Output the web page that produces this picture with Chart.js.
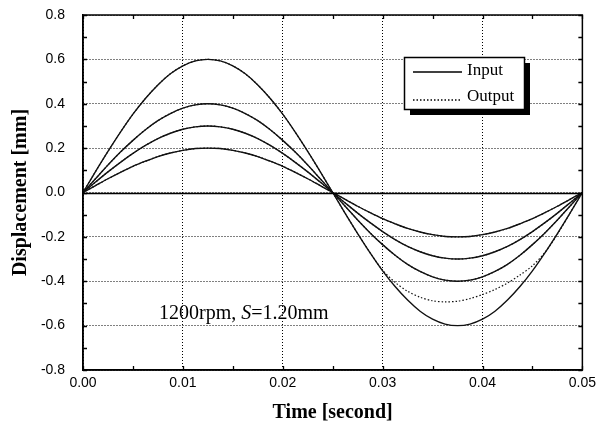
<!DOCTYPE html>
<html>
<head>
<meta charset="utf-8">
<script src="https://cdn.jsdelivr.net/npm/chart.js@4.4.0/dist/chart.umd.min.js"></script>
<style>
  html, body { margin: 0; padding: 0; background: #fff; }
  #wrap { width: 601px; height: 434px; position: relative; }
</style>
</head>
<body>
<div id="wrap"><canvas id="chart" width="601" height="434"></canvas></div>
<script>
// sample times [second]
const timeSec = [0, 0.00125, 0.0025, 0.00375, 0.005, 0.00625, 0.0075, 0.00875, 0.01, 0.01125,
                 0.0125, 0.01375, 0.015, 0.01625, 0.0175, 0.01875, 0.02, 0.02125, 0.0225, 0.02375,
                 0.025, 0.02625, 0.0275, 0.02875, 0.03, 0.03125, 0.0325, 0.03375, 0.035, 0.03625,
                 0.0375, 0.03875, 0.04, 0.04125, 0.0425, 0.04375, 0.045, 0.04625, 0.0475, 0.04875, 0.05];

// input displacement [mm]
const input06 = [0, 0.094, 0.185, 0.272, 0.353, 0.424, 0.485, 0.535, 0.571, 0.593,
                 0.600, 0.593, 0.571, 0.535, 0.485, 0.424, 0.353, 0.272, 0.185, 0.094,
                 0, -0.094, -0.185, -0.272, -0.353, -0.424, -0.485, -0.535, -0.571, -0.593,
                 -0.600, -0.593, -0.571, -0.535, -0.485, -0.424, -0.353, -0.272, -0.185, -0.094, 0];
const input04 = [0, 0.062, 0.124, 0.182, 0.235, 0.283, 0.324, 0.356, 0.380, 0.395,
                 0.400, 0.395, 0.380, 0.356, 0.324, 0.283, 0.235, 0.182, 0.124, 0.062,
                 0, -0.062, -0.124, -0.182, -0.235, -0.283, -0.324, -0.356, -0.380, -0.395,
                 -0.400, -0.395, -0.380, -0.356, -0.324, -0.283, -0.235, -0.182, -0.124, -0.062, 0];
const input03 = [0, 0.047, 0.093, 0.136, 0.176, 0.212, 0.243, 0.267, 0.285, 0.296,
                 0.300, 0.296, 0.285, 0.267, 0.243, 0.212, 0.176, 0.136, 0.093, 0.047,
                 0, -0.047, -0.093, -0.136, -0.176, -0.212, -0.243, -0.267, -0.285, -0.296,
                 -0.300, -0.296, -0.285, -0.267, -0.243, -0.212, -0.176, -0.136, -0.093, -0.047, 0];
const input02 = [0, 0.031, 0.062, 0.091, 0.118, 0.141, 0.162, 0.178, 0.190, 0.198,
                 0.200, 0.198, 0.190, 0.178, 0.162, 0.141, 0.118, 0.091, 0.062, 0.031,
                 0, -0.031, -0.062, -0.091, -0.118, -0.141, -0.162, -0.178, -0.190, -0.198,
                 -0.200, -0.198, -0.190, -0.178, -0.162, -0.141, -0.118, -0.091, -0.062, -0.031, 0];

// output displacement [mm]; only the 0.6 mm case departs from its input
const output06 = [0, 0.094, 0.185, 0.272, 0.353, 0.424, 0.485, 0.535, 0.571, 0.593,
                  0.600, 0.593, 0.571, 0.535, 0.485, 0.424, 0.353, 0.272, 0.185, 0.094,
                  0, -0.094, -0.185, -0.272, -0.350, -0.405, -0.445, -0.472, -0.488, -0.493,
                  -0.490, -0.478, -0.460, -0.437, -0.408, -0.372, -0.330, -0.270, -0.188, -0.094, 0];
const output04 = input04.slice();
const output03 = input03.slice();
const output02 = input02.slice();

const xTicks = [0, 0.01, 0.02, 0.03, 0.04, 0.05];
const yTicks = [-0.8, -0.6, -0.4, -0.2, 0, 0.2, 0.4, 0.6, 0.8];

const note = '1200rpm, ';

function pts(ys) {
    return ys.map((y, i) => ({ x: timeSec[i], y: y }));
}

function solid(ys) {
    return { data: pts(ys), borderColor: '#111', borderWidth: 1.4, pointRadius: 0,
             tension: 0.3, fill: false };
}
function dotted(ys) {
    return { data: pts(ys), borderColor: '#111', borderWidth: 1.2, borderDash: [1.5, 2], pointRadius: 0,
             tension: 0.3, fill: false };
}

// inward ticks, zero line, legend with shadow and the note
const decorPlugin = {
    id: 'decor',
    afterDatasetsDraw(chart) {
        const { ctx, chartArea: a, scales: { x, y } } = chart;
        ctx.save();
        ctx.strokeStyle = '#000';
        ctx.lineWidth = 1.5;
        // zero line
        const y0 = Math.round(y.getPixelForValue(0)) + 0.5;
        ctx.beginPath();
        ctx.moveTo(a.left, y0);
        ctx.lineTo(a.right, y0);
        ctx.stroke();

        ctx.lineWidth = 1.3;
        ctx.beginPath();
        for (let v = 0; v <= 0.05001; v += 0.005) {
            const px = Math.round(x.getPixelForValue(v)) + 0.5;
            ctx.moveTo(px, a.bottom); ctx.lineTo(px, a.bottom - 4);
            ctx.moveTo(px, a.top); ctx.lineTo(px, a.top + 4);
        }
        for (let v = -0.8; v <= 0.8001; v += 0.1) {
            const py = Math.round(y.getPixelForValue(v)) + 0.5;
            ctx.moveTo(a.left, py); ctx.lineTo(a.left + 4, py);
            ctx.moveTo(a.right, py); ctx.lineTo(a.right - 4, py);
        }
        ctx.stroke();

        // legend
        const lx = 404, ly = 57, lw = 120, lh = 52;
        ctx.fillStyle = '#000';
        ctx.fillRect(lx + 6, ly + 6, lw, lh);
        ctx.fillStyle = '#fff';
        ctx.fillRect(lx, ly, lw, lh);
        ctx.lineWidth = 1.5;
        ctx.strokeRect(lx + 0.5, ly + 0.5, lw, lh);

        ctx.lineWidth = 1.4;
        ctx.beginPath();
        ctx.moveTo(lx + 9, ly + 15); ctx.lineTo(lx + 58, ly + 15);
        ctx.stroke();
        ctx.setLineDash([1.5, 2]);
        ctx.beginPath();
        ctx.moveTo(lx + 9, ly + 43); ctx.lineTo(lx + 58, ly + 43);
        ctx.stroke();
        ctx.setLineDash([]);

        ctx.fillStyle = '#000';
        ctx.font = '17px "Liberation Serif"';
        ctx.textBaseline = 'middle';
        ctx.textAlign = 'left';
        ctx.fillText('Input', lx + 63, ly + 14);
        ctx.fillText('Output', lx + 63, ly + 40);

        // note
        let nx = 159;
        const ny = y.getPixelForValue(-0.545);
        ctx.font = '20px "Liberation Serif"';
        ctx.fillText(note, nx, ny);
        nx += ctx.measureText(note).width;
        ctx.font = 'italic 20px "Liberation Serif"';
        ctx.fillText('S', nx, ny);
        nx += ctx.measureText('S').width;
        ctx.font = '20px "Liberation Serif"';
        ctx.fillText('=1.20mm', nx, ny);
        ctx.restore();
    }
};

new Chart(document.getElementById('chart'), {
    type: 'line',
    data: {
        datasets: [
            solid(input06), solid(input04), solid(input03), solid(input02),
            dotted(output06), dotted(output04), dotted(output03), dotted(output02)
        ]
    },
    options: {
        responsive: false,
        animation: false,
        layout: { padding: { top: 15, right: 18, left: 0, bottom: 0 } },
        plugins: { legend: { display: false }, tooltip: { enabled: false } },
        scales: {
            x: {
                type: 'linear',
                min: 0, max: 0.05,
                afterBuildTicks: s => { s.ticks = xTicks.map(v => ({ value: v })); },
                afterFit: s => { s.height = 64; },
                grid: { color: '#000', lineWidth: 1, drawTicks: false },
                border: { color: '#000', width: 1.5, dash: [1, 2] },
                ticks: {
                    color: '#000', padding: 5,
                    font: { family: '"Liberation Sans", Arial', size: 14 },
                    callback: v => v.toFixed(2)
                },
                title: {
                    display: true, text: 'Time [second]', color: '#000',
                    font: { family: '"Liberation Serif"', size: 20, weight: 'bold' },
                    padding: { top: 0, bottom: 9 }
                }
            },
            y: {
                min: -0.8, max: 0.8,
                afterBuildTicks: s => { s.ticks = yTicks.map(v => ({ value: v })); },
                afterFit: s => { s.width = 83; s.paddingTop = 0; s.paddingBottom = 0; },
                grid: { color: '#000', lineWidth: 1, drawTicks: false },
                border: { color: '#000', width: 1.5, dash: [1, 2] },
                ticks: {
                    color: '#000', padding: 18,
                    font: { family: '"Liberation Sans", Arial', size: 14 },
                    callback: v => v.toFixed(1)
                },
                title: {
                    display: true, text: 'Displacement [mm]', color: '#000',
                    font: { family: '"Liberation Serif"', size: 20, weight: 'bold' },
                    padding: { top: 9, bottom: 0 }
                }
            }
        }
    },
    plugins: [decorPlugin, {
        id: 'frame',
        afterDatasetsDraw(chart) {
            const { ctx, chartArea: a } = chart;
            ctx.save();
            ctx.strokeStyle = '#000';
            ctx.lineWidth = 1.5;
            ctx.strokeRect(a.left, a.top, a.right - a.left, a.bottom - a.top);
            ctx.restore();
        }
    }]
});
</script>
</body>
</html>
